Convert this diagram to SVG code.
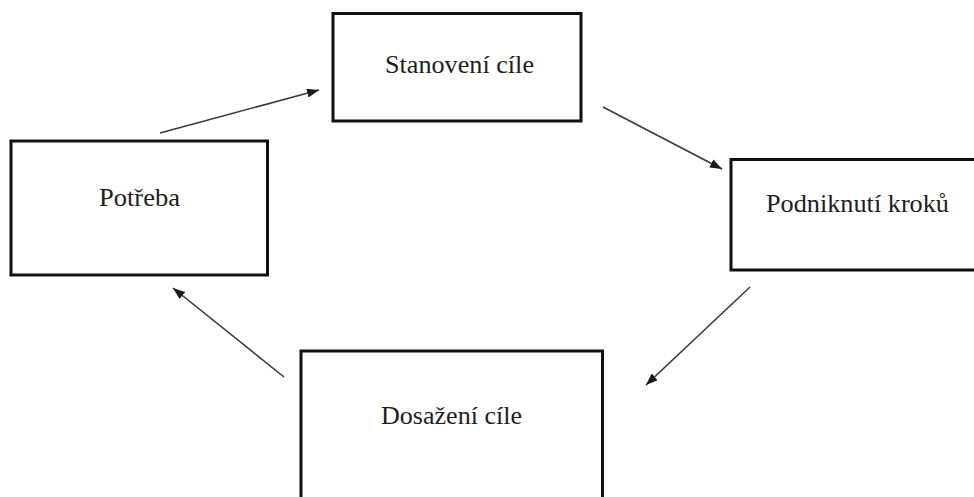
<svg xmlns="http://www.w3.org/2000/svg" width="974" height="497" viewBox="0 0 974 497">
  <defs>
    <marker id="arrowhead" viewBox="0 0 12 9" refX="12" refY="4.5" markerWidth="12" markerHeight="9" markerUnits="userSpaceOnUse" orient="auto">
      <path d="M0,0 L12,4.5 L0,9 Z" fill="#1a1a1a"/>
    </marker>
  </defs>
  <style>
    .box { fill: #ffffff; stroke: #111111; stroke-width: 3; }
    .label { font-family: "Liberation Serif", "Times New Roman", serif; font-size: 25px; fill: #1e1e1e; }
    .edge { fill: none; stroke: #3a3a3a; stroke-width: 1.6; marker-end: url(#arrowhead); }
  </style>
  <rect width="974" height="497" fill="#ffffff"/>

  <g id="node-stanoveni">
    <rect class="box" x="333" y="13.5" width="248" height="107.5"/>
    <text class="label" x="385" y="73" textLength="149" lengthAdjust="spacingAndGlyphs">Stanovení cíle</text>
  </g>

  <g id="node-potreba">
    <rect class="box" x="11" y="141" width="256.5" height="134"/>
    <text class="label" x="99" y="206" textLength="81" lengthAdjust="spacingAndGlyphs">Potřeba</text>
  </g>

  <g id="node-podniknuti">
    <rect class="box" x="731" y="159.5" width="260" height="110.5"/>
    <text class="label" x="766" y="212" textLength="183" lengthAdjust="spacingAndGlyphs">Podniknutí kroků</text>
  </g>

  <g id="node-dosazeni">
    <rect class="box" x="301" y="351" width="301.5" height="160"/>
    <text class="label" x="381" y="424" textLength="141" lengthAdjust="spacingAndGlyphs">Dosažení cíle</text>
  </g>

  <g id="connectors">
    <line class="edge" x1="160" y1="133" x2="319" y2="90"/>
    <line class="edge" x1="603" y1="107" x2="722" y2="169"/>
    <line class="edge" x1="750" y1="287" x2="646" y2="385"/>
    <line class="edge" x1="284" y1="377" x2="173" y2="288"/>
  </g>
</svg>
